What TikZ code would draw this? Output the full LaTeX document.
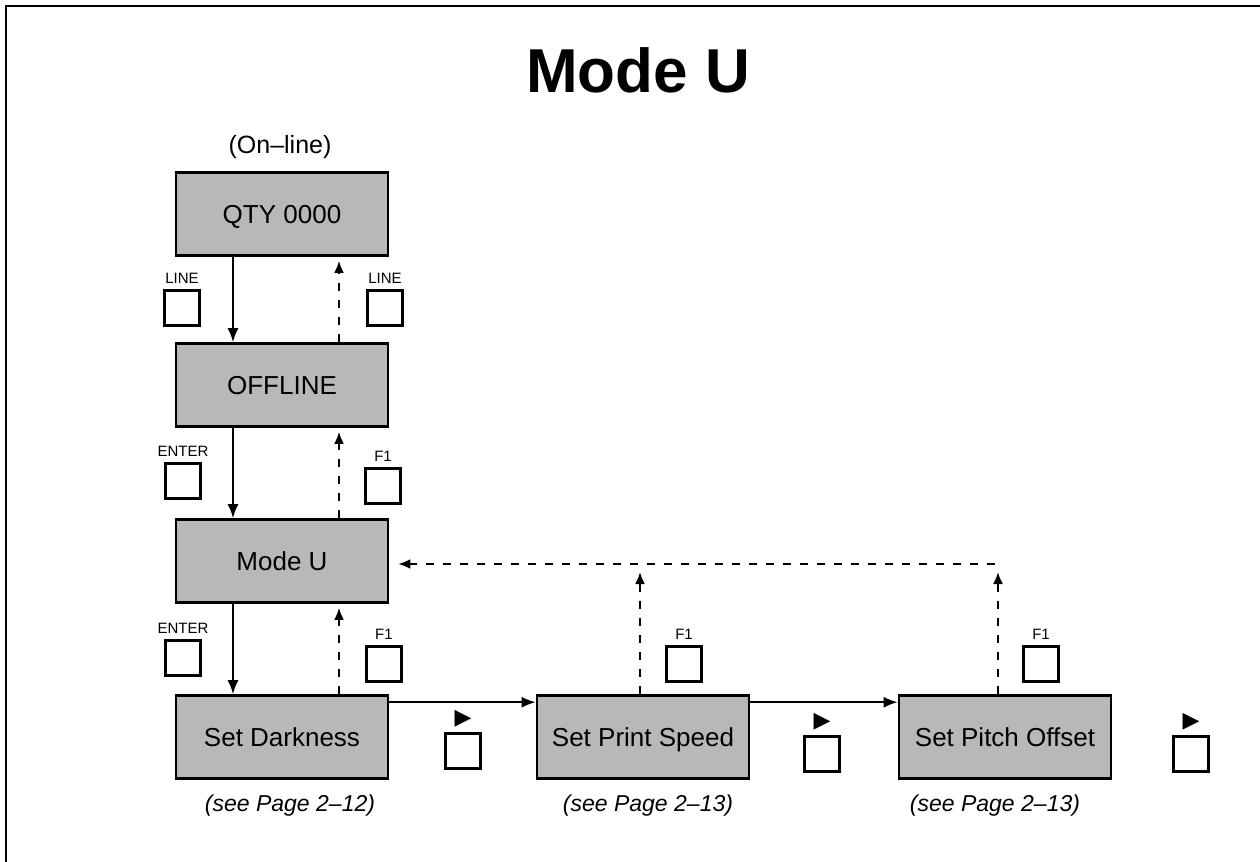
\documentclass[tikz,border=0pt]{standalone}
\usepackage{fontspec}
\setsansfont{Liberation Sans}
\newfontfamily\symfont{DejaVu Sans}
\usetikzlibrary{arrows.meta}

\begin{document}
\begin{tikzpicture}[
   x=0.5pt,y=-0.5pt,
   font=\sffamily,
   state/.style={draw,line width=1.3pt,fill=black!28,minimum width=106pt,minimum height=41.5pt,inner sep=0pt,text height=9.4pt,text depth=0pt,font=\sffamily\fontsize{13}{15}\selectfont},
   key/.style={draw,line width=1.1pt,minimum size=17.5pt,inner sep=0pt},
   keylab/.style={font=\sffamily\fontsize{7.5}{8}\selectfont,inner sep=1pt,label distance=2pt},
   arrowlab/.style={font=\symfont\fontsize{11}{11}\selectfont,inner sep=0pt,label distance=2.5pt},
   note/.style={font=\sffamily\itshape\fontsize{11.5}{13}\selectfont},
   to/.style={-{Latex[length=7pt,width=5.5pt]},line width=1pt},
   back/.style={-{Latex[length=6pt,width=5pt]},line width=1.1pt,dash pattern=on 4pt off 4.5pt}]
\useasboundingbox (0,0) rectangle (1260,862);
% frame
\draw[line width=1pt] (6,862) -- (6,6) -- (1260,6);
\node[font=\sffamily\bfseries\fontsize{31}{36}\selectfont,anchor=base] (title) at (638,92) {Mode U};
\node[font=\sffamily\fontsize{12.5}{15}\selectfont] (online) at (280,147) {(On–line)};
% states
\node[state] (qty) at (282,214) {QTY 0000};
\node[state] (offline) at (282,385) {OFFLINE};
\node[state] (modeu) at (282,561) {Mode U};
\node[state] (dark) at (282,737) {Set Darkness};
\node[state] (speed) at (643,737) {Set Print Speed};
\node[state] (pitch) at (1005,737) {Set Pitch Offset};
\node[note] (dnote) at (290,806) {(see Page 2–12)};
\node[note] (snote) at (648,806) {(see Page 2–13)};
\node[note] (pnote) at (995,806) {(see Page 2–13)};
% keys
\node[key,label={[keylab]above:LINE}] (lineL) at (182,308) {};
\node[key,label={[keylab]above:LINE}] (lineR) at (385,308) {};
\node[key,label={[keylab]above:ENTER}] (enterA) at (183,481) {};
\node[key,label={[keylab]above:F1}] (f1A) at (383,486) {};
\node[key,label={[keylab]above:ENTER}] (enterB) at (183,658) {};
\node[key,label={[keylab]above:F1}] (f1B) at (384,664) {};
\node[key,label={[keylab]above:F1}] (f1C) at (684,664) {};
\node[key,label={[keylab]above:F1}] (f1D) at (1041,664) {};
\node[key,label={[arrowlab]above:▶}] (rightA) at (463,751) {};
\node[key,label={[arrowlab]above:▶}] (rightB) at (822,754) {};
\node[key,label={[arrowlab]above:▶}] (rightC) at (1191,754) {};
\coordinate (ret) at (995,564);
% forward
\draw[to] ([xshift=-24.5pt]qty.south) -- ([xshift=-24.5pt]offline.north);
\draw[to] ([xshift=-24.5pt]offline.south) -- ([xshift=-24.5pt]modeu.north);
\draw[to] ([xshift=-24.5pt]modeu.south) -- ([xshift=-24.5pt]dark.north);
\draw[to] ([yshift=-4pt]dark.north east) -- ([yshift=-4pt]speed.north west);
\draw[to] ([yshift=-4pt]speed.north east) -- ([yshift=-4pt]pitch.north west);
% back
\draw[back,shorten >=2pt] ([xshift=28.5pt]offline.north) -- ([xshift=28.5pt]qty.south);
\draw[back,shorten >=2pt] ([xshift=28.5pt]modeu.north) -- ([xshift=28.5pt]offline.south);
\draw[back,shorten >=2pt] ([xshift=28.5pt]dark.north) -- ([xshift=28.5pt]modeu.south);
\draw[back,shorten >=4pt] ([xshift=-1.5pt]speed.north) -- ([xshift=-1.5pt]speed.north |- ret);
\draw[back,shorten >=4pt] ([xshift=-3.5pt]pitch.north) -- ([xshift=-3.5pt]pitch.north |- ret);
\draw[back,shorten >=4.5pt] (ret) -- (modeu.east |- ret);
\end{tikzpicture}
\end{document}
